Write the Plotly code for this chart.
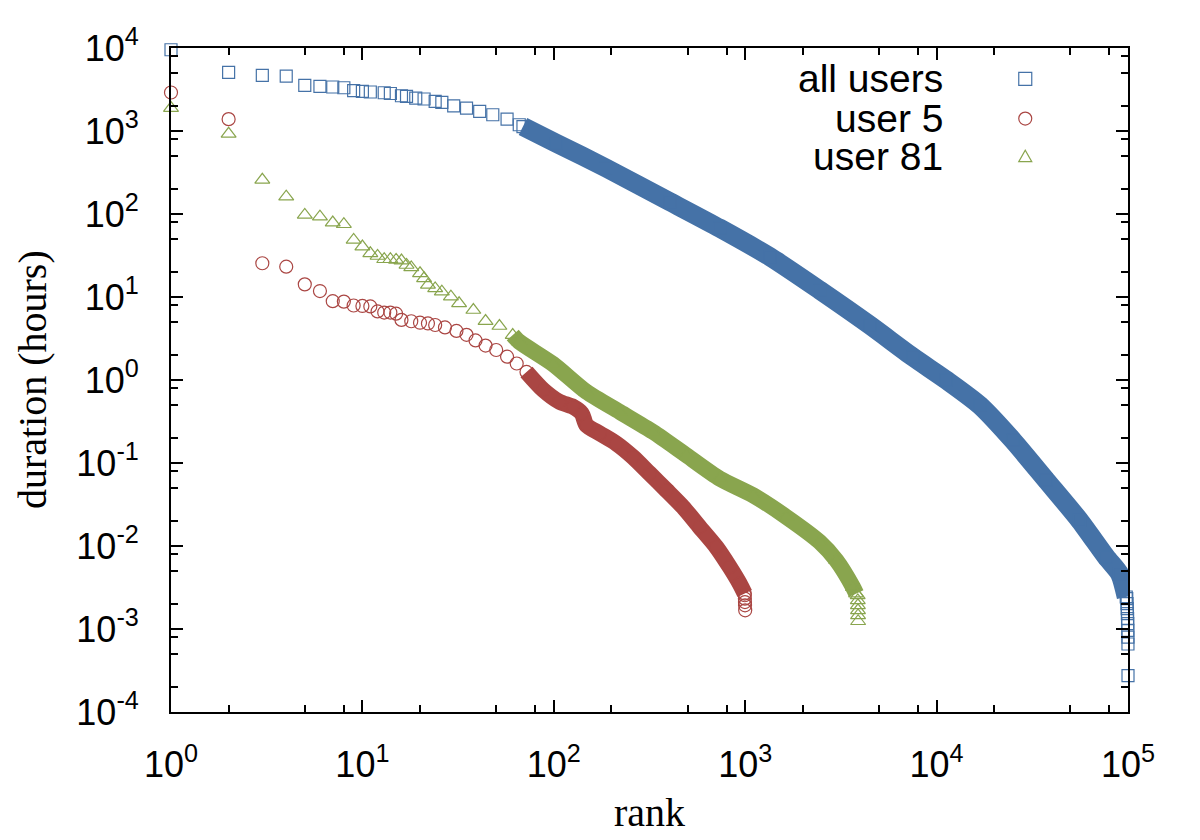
import numpy as np
import plotly.graph_objects as go

# ---------------- data ----------------
all_rank = [1, 2, 3, 4, 5, 6, 7, 8, 9, 10, 11, 13, 14, 16, 17, 19, 21, 24, 26, 30, 35, 41, 48, 57,
            66, 69, 103, 188, 403, 736, 1343, 2450, 4470, 7520, 11240, 16780, 25000, 37400,
            55800, 76900, 90300, 97900, 98500, 98800, 99100, 99300, 99500, 99650, 99800,
            99900, 99950, 99999]
all_dur = [9530, 5080, 4670, 4590, 3540, 3440, 3390, 3320, 3060, 3000, 2950, 2890, 2830, 2660,
           2610, 2490, 2430, 2270, 2210, 2010, 1890, 1720, 1570, 1390, 1190, 1130, 714, 357,
           141, 67.5, 30.6, 12.1, 4.59, 1.89, 1.0, 0.498, 0.188, 0.062, 0.0204, 0.00737,
           0.00464, 0.00243, 0.00232, 0.00202, 0.00176, 0.00153, 0.00133, 0.00116, 0.00096,
           0.0008, 0.00066, 0.000275]

u5_rank = [1, 2, 3, 4, 5, 6, 7, 8, 9, 10, 11, 12, 13, 14, 15, 16, 18, 20, 22, 24, 27, 31, 35,
           39, 44, 50, 57, 64, 72, 88, 107, 126, 140, 148, 174, 212, 259, 317, 388, 473, 578,
           707, 830, 936, 994, 995, 996, 997, 998, 1000]
u5_dur = [2910, 1390, 25.5, 23.2, 14.2, 11.8, 8.9, 8.8, 7.9, 7.8, 7.7, 6.7, 6.5, 6.5, 6.3, 5.3,
          5.1, 4.9, 4.8, 4.6, 4.3, 3.9, 3.5, 3.0, 2.6, 2.3, 1.91, 1.58, 1.25, 0.76, 0.546,
          0.475, 0.395, 0.286, 0.227, 0.172, 0.118, 0.0746, 0.047, 0.0295, 0.0169, 0.0097,
          0.00558, 0.00352, 0.00267, 0.00255, 0.00232, 0.00211, 0.00193, 0.00168]

u81_rank = [1, 2, 3, 4, 5, 6, 7, 8, 9, 10, 11, 12, 13, 14, 15, 16, 17, 18, 20, 21, 22, 24, 26,
            29, 32, 38, 44, 52, 61, 66, 99, 148, 221, 330, 493, 736, 1099, 1641, 2449, 2993,
            3657, 3800, 3870, 3875, 3880, 3884, 3887, 3890]
u81_dur = [1890, 925, 258, 162, 97.5, 93, 78.8, 75.3, 48.8, 40.5, 33.6, 31.2, 28.5, 28.5, 28,
           27.5, 24.3, 22.7, 19.3, 16.8, 14, 12.7, 11.6, 10.1, 8.4, 6.97, 5.13, 4.47, 3.48,
           2.89, 1.56, 0.721, 0.413, 0.237, 0.124, 0.065, 0.0409, 0.0224, 0.0112, 0.00673,
           0.0032, 0.00267, 0.00254, 0.00221, 0.00193, 0.00168, 0.00146, 0.00124]

series_names = ["all users", "user 5", "user 81"]
x_tick_vals = [1, 10, 100, 1000, 10000, 100000]
x_tick_text = ["10<sup>0</sup>", "10<sup>1</sup>", "10<sup>2</sup>", "10<sup>3</sup>",
               "10<sup>4</sup>", "10<sup>5</sup>"]
y_tick_vals = [1e-4, 1e-3, 1e-2, 1e-1, 1, 10, 100, 1000, 10000]
y_tick_text = ["10<sup>-4</sup>", "10<sup>-3</sup>", "10<sup>-2</sup>", "10<sup>-1</sup>",
               "10<sup>0</sup>", "10<sup>1</sup>", "10<sup>2</sup>", "10<sup>3</sup>",
               "10<sup>4</sup>"]

# ---------------- styling ----------------
BLUE, RED, GREEN = "#4572A7", "#AA4643", "#89A54E"
OFF = 8                      # page body margin of the html page
W, H = 1200 - OFF, 840 - OFF
L, T = 171 - OFF, 48.3 - OFF
R = W - (1128.5 - OFF)
B = H - (711.7 - OFF)
PW, PH = W - L - R, H - T - B


def paper_x(px):
    return (px - OFF - L) / PW


def paper_y(py):
    return (H - B - (py - OFF)) / PH


fig = go.Figure()

specs = [
    (all_rank, all_dur, BLUE, "square-open", 12, 19, (69, 97900)),
    (u5_rank, u5_dur, RED, "circle-open", 13, 16, (72, 994)),
    (u81_rank, u81_dur, GREEN, "triangle-up-open", 13, 16, (61, 3800)),
]

for (rk, du, col, sym, msz, bw, (lo, hi)), name in zip(specs, series_names):
    rk_a = np.array(rk, dtype=float)
    du_a = np.array(du, dtype=float)
    mask = (rk_a >= lo) & (rk_a <= hi)
    # dense part of the series: overlapping markers form a solid band
    fig.add_trace(go.Scatter(x=rk_a[mask], y=du_a[mask], mode="lines",
                             line=dict(color=col, width=bw, shape="spline", smoothing=0.7),
                             showlegend=False, hoverinfo="skip"))
    fig.add_trace(go.Scatter(x=rk_a, y=du_a, mode="markers", name=name,
                             marker=dict(symbol=sym, size=msz, color=col,
                                         line=dict(color=col, width=1.2)),
                             cliponaxis=False, showlegend=False))

minor_x = [m * 10 ** e for e in range(0, 5) for m in (2, 5, 8)]
minor_y = [m * 10.0 ** e for e in range(-4, 4) for m in (2, 5, 8)]

tick_font = dict(family="Liberation Sans Narrow, Liberation Sans, Arial, sans-serif",
                 size=36, color="black")

fig.update_xaxes(type="log", range=[0, 5], tickvals=x_tick_vals, ticktext=x_tick_text,
                 ticks="inside", ticklen=12, tickwidth=1.5, tickcolor="black",
                 showline=True, linecolor="black", linewidth=2, mirror="allticks",
                 showgrid=False, zeroline=False, tickfont=tick_font, automargin=False,
                 ticklabelstandoff=20,
                 minor=dict(tickvals=minor_x, ticks="inside", ticklen=7, tickwidth=1.5,
                            tickcolor="black", showgrid=False))
fig.update_yaxes(type="log", range=[-4, 4], tickvals=y_tick_vals, ticktext=y_tick_text,
                 ticks="inside", ticklen=12, tickwidth=1.5, tickcolor="black",
                 showline=True, linecolor="black", linewidth=2, mirror="allticks",
                 showgrid=False, zeroline=False, tickfont=tick_font, automargin=False,
                 ticklabelstandoff=23,
                 minor=dict(tickvals=minor_y, ticks="inside", ticklen=7, tickwidth=1.5,
                            tickcolor="black", showgrid=False))

serif = dict(family="Liberation Serif, Times New Roman, serif", size=40, color="black")
sans = dict(family="Liberation Sans, Arial, sans-serif", size=39, color="black")

annotations = [
    dict(text="rank", x=0.5, y=paper_y(812), xref="paper", yref="paper",
         xanchor="center", yanchor="middle", showarrow=False, font=serif),
    dict(text="duration (hours)", x=paper_x(32), y=0.5, xref="paper", yref="paper",
         xanchor="center", yanchor="middle", textangle=-90, showarrow=False, font=serif),
]
legend_rows = [(79.2, BLUE, "rect"), (118.8, RED, "circle"), (156.8, GREEN, "tri")]
shapes = []
for (py, col, kind), name in zip(legend_rows, series_names):
    annotations.append(dict(text=name, x=paper_x(945), y=paper_y(py), xref="paper",
                            yref="paper", xanchor="right", yanchor="middle",
                            showarrow=False, font=sans))
    base = dict(xref="paper", yref="paper", xsizemode="pixel", ysizemode="pixel",
                xanchor=paper_x(1025.7), yanchor=paper_y(py),
                line=dict(color=col, width=1.2), fillcolor="rgba(0,0,0,0)")
    if kind == "rect":
        shapes.append(dict(type="rect", x0=-6.5, x1=6.5, y0=-6.5, y1=6.5, **base))
    elif kind == "circle":
        shapes.append(dict(type="circle", x0=-6.5, x1=6.5, y0=-6.5, y1=6.5, **base))
    else:
        shapes.append(dict(type="path", path="M -6.5,-5 L 6.5,-5 L 0,6.5 Z", **base))

fig.update_layout(width=W, height=H, margin=dict(l=L, r=R, t=T, b=B),
                  plot_bgcolor="white", paper_bgcolor="white",
                  annotations=annotations, shapes=shapes, showlegend=False)

fig.write_html("out.html")
